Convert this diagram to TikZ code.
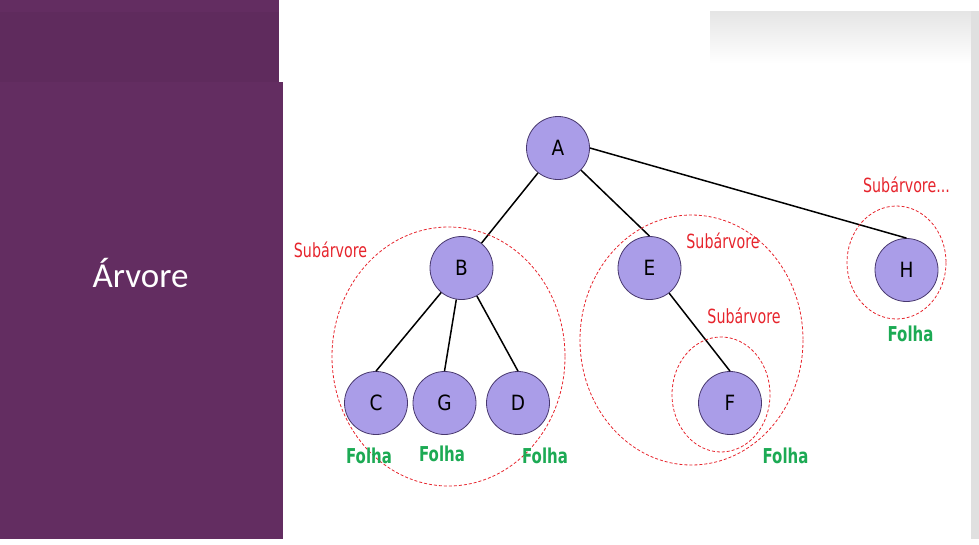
\documentclass[tikz,border=0pt]{standalone}
\usepackage{fontspec}
\setmainfont{DejaVu Sans}[FakeStretch=0.73]
\newfontfamily\titlefont{Carlito}
\newfontfamily\vertexfont{DejaVu Sans}[FakeStretch=0.88]
\definecolor{panel}{RGB}{99,45,97}
\definecolor{paneltop}{RGB}{95,43,93}
\definecolor{nodefill}{RGB}{170,157,232}
\definecolor{nodeline}{RGB}{72,56,110}
\definecolor{subred}{RGB}{230,36,44}
\definecolor{leafgreen}{RGB}{28,170,84}
\definecolor{strip}{RGB}{224,224,224}
\tikzset{
	vertex/.style={circle,draw=nodeline,fill=nodefill,line width=0.8pt,minimum size=63pt,inner sep=0pt,font=\vertexfont\fontsize{21}{23}\selectfont},
	edge/.style={line width=1.5pt},
	subtree/.style={draw=subred,dash pattern=on 3pt off 2pt,line width=0.8pt},
	sublabel/.style={anchor=base,text=subred,inner sep=0pt,font=\fontsize{19.5}{21}\selectfont},
	leaf/.style={anchor=base,text=leafgreen,inner sep=0pt,font=\bfseries\fontsize{20.5}{22}\selectfont}
}
\begin{document}
\begin{tikzpicture}[x=1pt,y=-1pt]
		\useasboundingbox (0,0) rectangle (979,544);
		\fill[panel] (0,0) rectangle (283,539);
		\fill[paneltop] (0,12) rectangle (279,82);
		\fill[white] (279,0) rectangle (283,82);
		\shade[top color=strip!85,bottom color=white] (710,11) rectangle (971,63);
		\fill[strip] (971,11) rectangle (979,539);
		\node[anchor=base,text=white,inner sep=0pt,font=\titlefont\fontsize{35}{40}\selectfont] (title) at (140.5,287) {Árvore};
		\node[vertex] (A) at (558,148) {A};
		\node[vertex] (B) at (461.5,268) {B};
		\node[vertex] (E) at (649.5,268) {E};
		\node[vertex] (H) at (906.5,270) {H};
		\node[vertex] (C) at (376,403) {C};
		\node[vertex] (G) at (444.5,403) {G};
		\node[vertex] (D) at (518,403) {D};
		\node[vertex] (F) at (730,403) {F};
		\draw[edge] (A) -- (B);
		\draw[edge] (A) -- (E.north);
		\draw[edge] (A.east) -- (H.north);
		\draw[edge] (B) -- (C.north);
		\draw[edge] (B) -- (G.north);
		\draw[edge] (B) -- (D.north);
		\draw[edge] (E) -- (F.north);
		\draw[subtree] (448.5,356.5) ellipse [x radius=116.5,y radius=129.5];
		\draw[subtree] (691.5,340) ellipse [x radius=111.5,y radius=125];
		\draw[subtree] (721,394.5) ellipse [x radius=49,y radius=57.5];
		\draw[subtree] (896.5,262.5) ellipse [x radius=49.5,y radius=56.5];
		\node[sublabel] (subB) at (330.5,257) {Subárvore};
		\node[sublabel] (subE) at (723,248) {Subárvore};
		\node[sublabel] (subF) at (744,323) {Subárvore};
		\node[sublabel] (subH) at (906.5,192) {Subárvore...};
		\node[leaf] (leafC) at (369,463) {Folha};
		\node[leaf] (leafG) at (442,461) {Folha};
		\node[leaf] (leafD) at (545,463) {Folha};
		\node[leaf] (leafF) at (785.5,463) {Folha};
		\node[leaf] (leafH) at (910.5,341) {Folha};
	\end{tikzpicture}
\end{document}
